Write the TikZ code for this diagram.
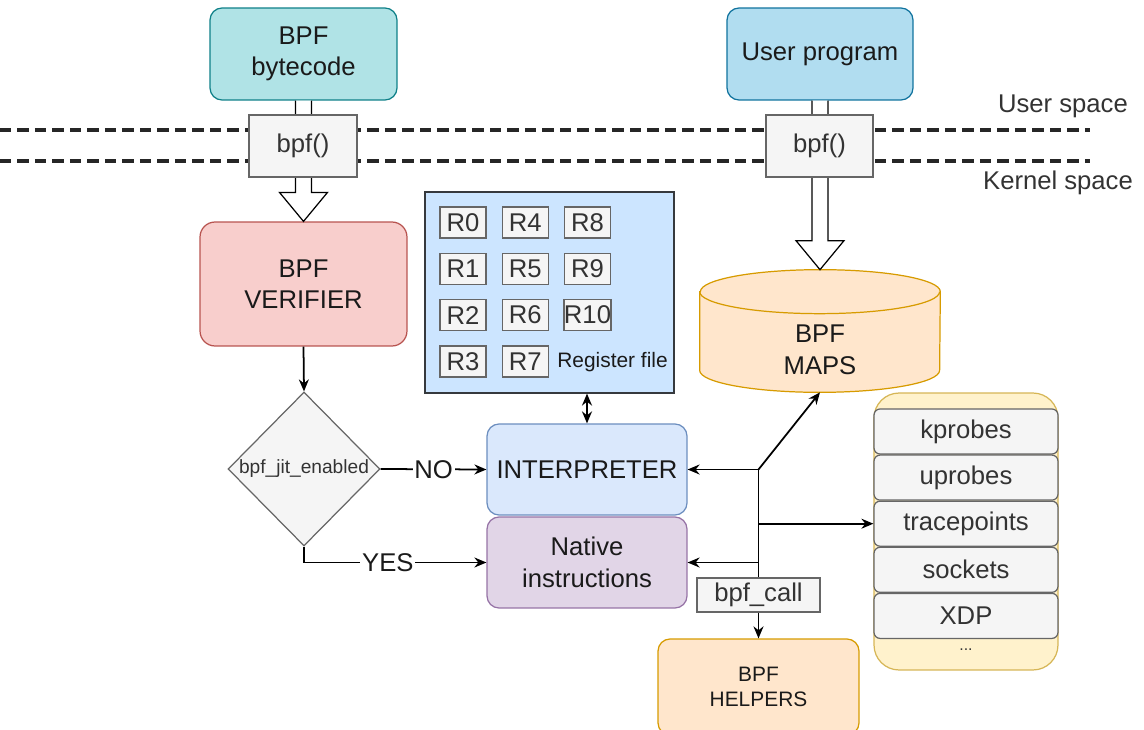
\documentclass[tikz,border=0pt]{standalone}
\usepackage{fontspec}
\setmainfont{Liberation Sans}
\usetikzlibrary{arrows.meta,calc,shapes.geometric}

\definecolor{textdark}{HTML}{1A1A1A}
\definecolor{graytext}{HTML}{333333}
\definecolor{grayfill}{HTML}{F5F5F5}
\definecolor{grayline}{HTML}{666666}
\definecolor{tealfill}{HTML}{B0E3E6}
\definecolor{tealline}{HTML}{0E8088}
\definecolor{userfill}{HTML}{B1DDF0}
\definecolor{userline}{HTML}{10739E}
\definecolor{verifill}{HTML}{F8CECC}
\definecolor{veriline}{HTML}{B85450}
\definecolor{regfill}{HTML}{CCE5FF}
\definecolor{regline}{HTML}{36393D}
\definecolor{interpfill}{HTML}{DAE8FC}
\definecolor{interpline}{HTML}{6C8EBF}
\definecolor{nativefill}{HTML}{E1D5E7}
\definecolor{nativeline}{HTML}{9673A6}
\definecolor{mapsfill}{HTML}{FFE6CC}
\definecolor{mapsline}{HTML}{D79B00}
\definecolor{probefill}{HTML}{FFF2CC}
\definecolor{probeline}{HTML}{D6B656}

% hollow arrow from #1 down to #2
\newcommand{\fatarrow}[2]{%
  \draw[fat] ($(#1)+(-8,0)$) -- ($(#2)+(-8,-29)$) -- ($(#2)+(-24,-29)$) -- (#2)
    -- ($(#2)+(24,-29)$) -- ($(#2)+(8,-29)$) -- ($(#1)+(8,0)$);}

\begin{document}
\begin{tikzpicture}[x=0.02cm, y=-0.02cm,
    every node/.style={font=\fontsize{14.6}{18}\selectfont, text=textdark, align=center},
    block/.style={draw, rounded corners=0.24cm, inner sep=0pt, line width=0.7pt},
    graybox/.style={draw=grayline, fill=grayfill, text=graytext, inner sep=0pt, line width=0.7pt},
    reg/.style={graybox, minimum width=0.92cm, minimum height=0.62cm},
    probe/.style={graybox, rounded corners=0.12cm, minimum width=3.68cm, minimum height=0.9cm},
    conn/.style={line width=1pt, -{Stealth[length=0.24cm, width=0.2cm]}},
    fat/.style={draw=black, fill=white, line width=0.7pt},
    spaceline/.style={dash pattern=on 0.23cm off 0.12cm, line width=2.2pt, draw=black!85}
  ]
  \useasboundingbox (0,0) rectangle (1144,730);

  % user / kernel border
  \draw[spaceline] (0,130) -- (1090,130);
  \draw[spaceline] (0,161) -- (1090,161);
  \node[text=graytext] (userspace) at (1063,106) {User space};
  \node[text=graytext] (kernelspace) at (1058,183) {Kernel space};

  \node[block, draw=tealline, fill=tealfill, minimum width=3.74cm, minimum height=1.84cm] (bytecode) at (303.5,54) {BPF\\bytecode};
  \node[block, draw=userline, fill=userfill, minimum width=3.72cm, minimum height=1.84cm] (userprog) at (820,54) {User program};
  \node[block, draw=veriline, fill=verifill, rounded corners=0.3cm, minimum width=4.14cm, minimum height=2.48cm] (verifier) at (303.5,284) {BPF\\VERIFIER};

  % maps cylinder
  \node[inner sep=0pt, minimum width=4.8cm, minimum height=2.44cm] (maps) at (820,331) {};
  \draw[draw=mapsline, fill=mapsfill, line width=0.7pt] ($(maps.north west)+(0,22)$) -- ($(maps.south west)+(0,-22)$)
    arc[start angle=180, end angle=360, x radius=2.4cm, y radius=0.44cm]
    -- ($(maps.north east)+(0,22)$)
    arc[start angle=0, end angle=180, x radius=2.4cm, y radius=0.44cm] -- cycle;
  \draw[draw=mapsline, line width=0.7pt] ($(maps.north west)+(0,22)$)
    arc[start angle=180, end angle=360, x radius=2.4cm, y radius=0.44cm];
  \node (mapstext) at ($(maps.center)+(0,19)$) {BPF\\MAPS};

  \fatarrow{bytecode.south}{verifier.north}
  \fatarrow{userprog.south}{maps.north}

  \node[graybox, minimum width=2.16cm, minimum height=1.24cm] (bpfleft) at (303,146) {bpf()};
  \node[graybox, minimum width=2.14cm, minimum height=1.24cm] (bpfright) at (819.5,146) {bpf()};

  % register file
  \node[draw=regline, fill=regfill, line width=0.7pt, inner sep=0pt, minimum width=4.98cm, minimum height=4.02cm] (regfile) at (549.5,292.5) {};
  \foreach \n in {0,...,10}{
    \pgfmathtruncatemacro{\col}{\n/4}
    \pgfmathtruncatemacro{\row}{mod(\n,4)}
    \node[reg] (r\n) at ({463+62.25*\col},{222.5+46.3*\row}) {R\n};
  }
  \node[anchor=west, inner sep=0pt, font=\fontsize{11.9}{14}\selectfont] (regname) at (557,362) {Register file};

  \node[diamond, draw=grayline, fill=grayfill, text=graytext, line width=0.7pt, inner sep=0pt,
    minimum width=3.04cm, minimum height=3.08cm, font=\fontsize{10.9}{13}\selectfont] (jit) at (304,469) {bpf\_jit\_enabled};
  \node[block, draw=interpline, fill=interpfill, minimum width=4cm, minimum height=1.82cm] (interp) at (587,469.5) {INTERPRETER};
  \node[block, draw=nativeline, fill=nativefill, minimum width=4cm, minimum height=1.82cm] (native) at (587,562.5) {Native\\instructions};

  % attach points
  \node[draw=probeline, fill=probefill, line width=0.7pt, rounded corners=0.5cm, inner sep=0pt, minimum width=3.68cm, minimum height=5.54cm] (probes) at (966,531.5) {};
  \foreach \name [count=\i from 0] in {kprobes,uprobes,tracepoints,sockets,XDP}
    \node[probe] (\name) at (966,{431.5+46.1*\i}) {\name};
  \node[font=\fontsize{9}{10}\selectfont, text=graytext] (more) at (966,650) {...};

  \node[graybox, minimum width=2.46cm, minimum height=0.68cm] (bpfcall) at (758.5,595) {bpf\_call};
  \node[block, draw=mapsline, fill=mapsfill, minimum width=4.02cm, minimum height=1.92cm, font=\fontsize{11.9}{13.8}\selectfont] (helpers) at (758.5,687) {BPF\\HELPERS};

  % connectors
  \draw[conn] (verifier.south) -- (jit.north);
  \draw[conn] (jit.east) -- node[fill=white, inner sep=1pt] {NO} (interp.west);
  \draw[conn] (jit.south) |- node[pos=0.73, fill=white, inner sep=1pt] {YES} (native.west);
  \draw[line width=1pt, {Stealth[length=0.24cm, width=0.2cm]}-{Stealth[length=0.24cm, width=0.2cm]}] (interp.north |- regfile.south) -- (interp.north);

  \coordinate (busA) at (bpfcall.north |- interp.east);
  \coordinate (busB) at (bpfcall.north |- tracepoints.west);
  \coordinate (busC) at (bpfcall.north |- native.east);
  \draw[line width=1pt] (busA) -- (bpfcall.north);
  \draw[conn] (busA) -- (interp.east);
  \draw[conn] (busA) -- (maps.south);
  \draw[conn] (busB) -- (tracepoints.west);
  \draw[conn] (busC) -- (native.east);
  \draw[conn] (bpfcall.south) -- (helpers.north);
\end{tikzpicture}
\end{document}
